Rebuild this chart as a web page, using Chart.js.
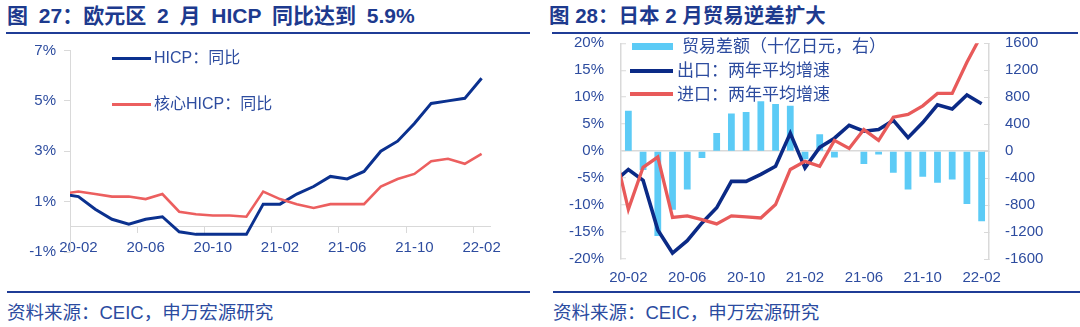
<!DOCTYPE html>
<html>
<head>
<meta charset="utf-8">
<script src="https://cdn.jsdelivr.net/npm/chart.js@4.4.1/dist/chart.umd.min.js"></script>
<style>
  body { margin: 0; width: 1080px; height: 327px; background: #fff; position: relative; overflow: hidden;
         font-family: "Liberation Sans", "Noto Sans CJK SC", sans-serif; }
  .title { position: absolute; top: 3px; font-weight: bold; font-size: 21px; line-height: 26px; color: #1d3a8e; white-space: nowrap; }
  .rule { position: absolute; height: 2px; background: #1f3c96; }
  .src { position: absolute; top: 302px; font-size: 18.5px; line-height: 22px; color: #2b4ba0; white-space: nowrap; }
  .leg { position: absolute; color: #2d4c9f; white-space: nowrap; line-height: 20px; }
  .sw { position: absolute; }
  canvas { position: absolute; }
</style>
</head>
<body>
<div class="title" style="left:7px;word-spacing:5px">图 27：欧元区 2 月 HICP 同比达到 5.9%</div>
<div class="title" style="left:549px;font-size:20.5px">图 28：日本 2 月贸易逆差扩大</div>
<div class="rule" style="left:6px;width:524px;top:32px"></div>
<div class="rule" style="left:552px;width:526px;top:32px"></div>

<canvas id="euChart" width="540" height="240" style="left:0;top:40px"></canvas>
<canvas id="jpChart" width="540" height="260" style="left:540px;top:30px"></canvas>

<div class="sw" style="left:112px;top:57px;width:39px;height:3px;background:#0b318f"></div>
<div class="leg" style="left:154px;top:48px;font-size:16px">HICP：同比</div>
<div class="sw" style="left:112px;top:103px;width:39px;height:3px;background:#ec5f5f"></div>
<div class="leg" style="left:154px;top:94px;font-size:16px">核心HICP：同比</div>

<div class="sw" style="left:632px;top:43px;width:41px;height:7px;background:#5ccbf6"></div>
<div class="leg" style="left:682px;top:37px;font-size:17px">贸易差额（十亿日元，右）</div>
<div class="sw" style="left:630px;top:69px;width:43px;height:4px;background:#0b2a86"></div>
<div class="leg" style="left:677px;top:61px;font-size:17px">出口：两年平均增速</div>
<div class="sw" style="left:630px;top:92px;width:43px;height:4px;background:#e85a5a"></div>
<div class="leg" style="left:677px;top:85px;font-size:17px">进口：两年平均增速</div>

<div class="rule" style="left:7px;width:523px;top:291px"></div>
<div class="rule" style="left:553px;width:527px;top:291px"></div>
<div class="src" style="left:7px">资料来源：CEIC，申万宏源研究</div>
<div class="src" style="left:553px">资料来源：CEIC，申万宏源研究</div>

<script>
// months; the first one (20-01) sits just left of the axis and is clipped
const months = ['20-01', '20-02', '20-03', '20-04', '20-05', '20-06', '20-07', '20-08', '20-09',
  '20-10', '20-11', '20-12', '21-01', '21-02', '21-03', '21-04', '21-05', '21-06', '21-07',
  '21-08', '21-09', '21-10', '21-11', '21-12', '22-01', '22-02'];
const shownMonths = ['20-02', '20-06', '20-10', '21-02', '21-06', '21-10', '22-02'];

// fig 27: euro area HICP, %
const hicp = [1.3, 1.2, 0.7, 0.3, 0.1, 0.3, 0.4, -0.2, -0.3, -0.3, -0.3, -0.3, 0.9, 0.9,
  1.3, 1.6, 2.0, 1.9, 2.2, 3.0, 3.4, 4.1, 4.9, 5.0, 5.1, 5.9];
const coreHicp = [1.3, 1.4, 1.3, 1.2, 1.2, 1.1, 1.3, 0.6, 0.5, 0.45, 0.45, 0.4, 1.4, 1.1,
  0.9, 0.75, 0.9, 0.9, 0.9, 1.6, 1.9, 2.1, 2.6, 2.7, 2.5, 2.9];
const euTicks = [-1, 1, 3, 5, 7];

// fig 28: Japan trade
const tradeBalance = [null, 600, -280, -1260, -870, -570, -100, 270, 560, 580, 740, 700, 675,
  -120, 250, -95, -10, -190, -50, -320, -570, -380, -470, -420, -785, -1040];
const exportGrowth = [-5.8, -3.4, -5.4, -14.6, -18.9, -16.6, -13.3, -10.5, -5.6, -5.6, -4.3, -2.8,
  3.3, -3.1, 0.7, 2.4, 4.8, 3.7, 4.0, 5.7, 2.5, 5.3, 8.6, 7.8, 10.4, 8.8];
const importGrowth = [0.8, -10.8, -3.0, -1.1, -12.3, -12.0, -12.7, -13.5, -12.0, -12.2, -12.4, -9.9,
  -3.4, -1.9, -2.8, 2.0, 0.5, 4.0, 2.0, 6.3, 6.8, 8.4, 10.7, 10.7, 16.5, 21.6];

const axisGray = '#d9d9d9';
const tickBlue = '#2d4c9f';
Chart.defaults.font.family = '"Liberation Sans", "Noto Sans CJK SC", sans-serif';
Chart.defaults.font.size = 15;
Chart.defaults.color = tickBlue;

function monthTick(value) {
  const lab = this.getLabelForValue(value);
  return shownMonths.includes(lab) ? lab : '';
}

// fixed axis sizes so the plot areas land where the picture has them
function fixWidth(w) {
  return s => { s.width = w; s.paddingTop = 0; s.paddingBottom = 0; };
}
function fixHeight(h) {
  return s => { s.height = h; s.paddingLeft = 0; s.paddingRight = 0; };
}

new Chart(document.getElementById('euChart'), {
  type: 'line',
  data: {
    labels: months,
    datasets: [
      { data: coreHicp, borderColor: '#ec5f5f', borderWidth: 2.6, pointRadius: 0, tension: 0, clip: 0 },
      { data: hicp, borderColor: '#0b318f', borderWidth: 3, pointRadius: 0, tension: 0, clip: 0 }
    ]
  },
  options: {
    responsive: false,
    animation: false,
    devicePixelRatio: 1,
    layout: { padding: { top: 10.5, right: 50, bottom: 28, left: 0 } },
    plugins: { legend: { display: false }, tooltip: { enabled: false } },
    scales: {
      x: {
        type: 'category',
        position: { y: 0 },
        min: '20-02',
        offset: true,
        grid: {
          offset: true, drawOnChartArea: false, tickLength: 6,
          tickColor: ctx => (ctx.index % 4 === 0 ? axisGray : 'transparent')
        },
        border: { color: axisGray },
        ticks: { autoSkip: false, maxRotation: 0, padding: 6, callback: monthTick },
        afterFit: fixHeight(0)
      },
      y: {
        min: -1, max: 7,
        afterBuildTicks: s => { s.ticks = euTicks.map(v => ({ value: v })); },
        grid: { drawOnChartArea: false, tickLength: 6, tickColor: axisGray },
        border: { color: axisGray },
        ticks: { padding: 8, callback: v => v + '%' },
        afterFit: fixWidth(70)
      }
    }
  }
});

new Chart(document.getElementById('jpChart'), {
  type: 'bar',
  data: {
    labels: months,
    datasets: [
      { type: 'line', data: importGrowth, yAxisID: 'y', borderColor: '#e85a5a', borderWidth: 3.3,
        pointRadius: 0, tension: 0, clip: 0, order: 1 },
      { type: 'line', data: exportGrowth, yAxisID: 'y', borderColor: '#0b2a86', borderWidth: 3.6,
        pointRadius: 0, tension: 0, clip: 0, order: 2 },
      { type: 'bar', data: tradeBalance, yAxisID: 'y1', backgroundColor: '#5ccbf6',
        barPercentage: 0.46, categoryPercentage: 1, order: 3 }
    ]
  },
  options: {
    responsive: false,
    animation: false,
    devicePixelRatio: 1,
    layout: { padding: { top: 13.3, right: 0, bottom: 0, left: 0 } },
    plugins: { legend: { display: false }, tooltip: { enabled: false } },
    scales: {
      x: {
        min: '20-02',
        offset: true,
        grid: { display: false, drawTicks: false },
        border: { display: false },
        ticks: { autoSkip: false, maxRotation: 0, padding: 10, callback: monthTick },
        afterFit: fixHeight(31)
      },
      y: {
        position: 'left',
        min: -20, max: 20,
        ticks: { stepSize: 5, padding: 22, callback: v => v + '%' },
        grid: {
          color: ctx => (ctx.tick && ctx.tick.value === 0 ? axisGray : 'transparent'),
          lineWidth: 1.5, tickLength: -5, tickColor: axisGray, tickWidth: 1
        },
        border: { color: axisGray, width: 1.5 },
        afterFit: fixWidth(81)
      },
      y1: {
        position: 'right',
        min: -1600, max: 1600,
        ticks: { stepSize: 400, padding: 21, callback: v => String(v) },
        grid: { drawOnChartArea: false, tickLength: -5, tickColor: axisGray },
        border: { color: axisGray, width: 1.5 },
        afterFit: fixWidth(91)
      }
    }
  }
});
</script>
</body>
</html>
